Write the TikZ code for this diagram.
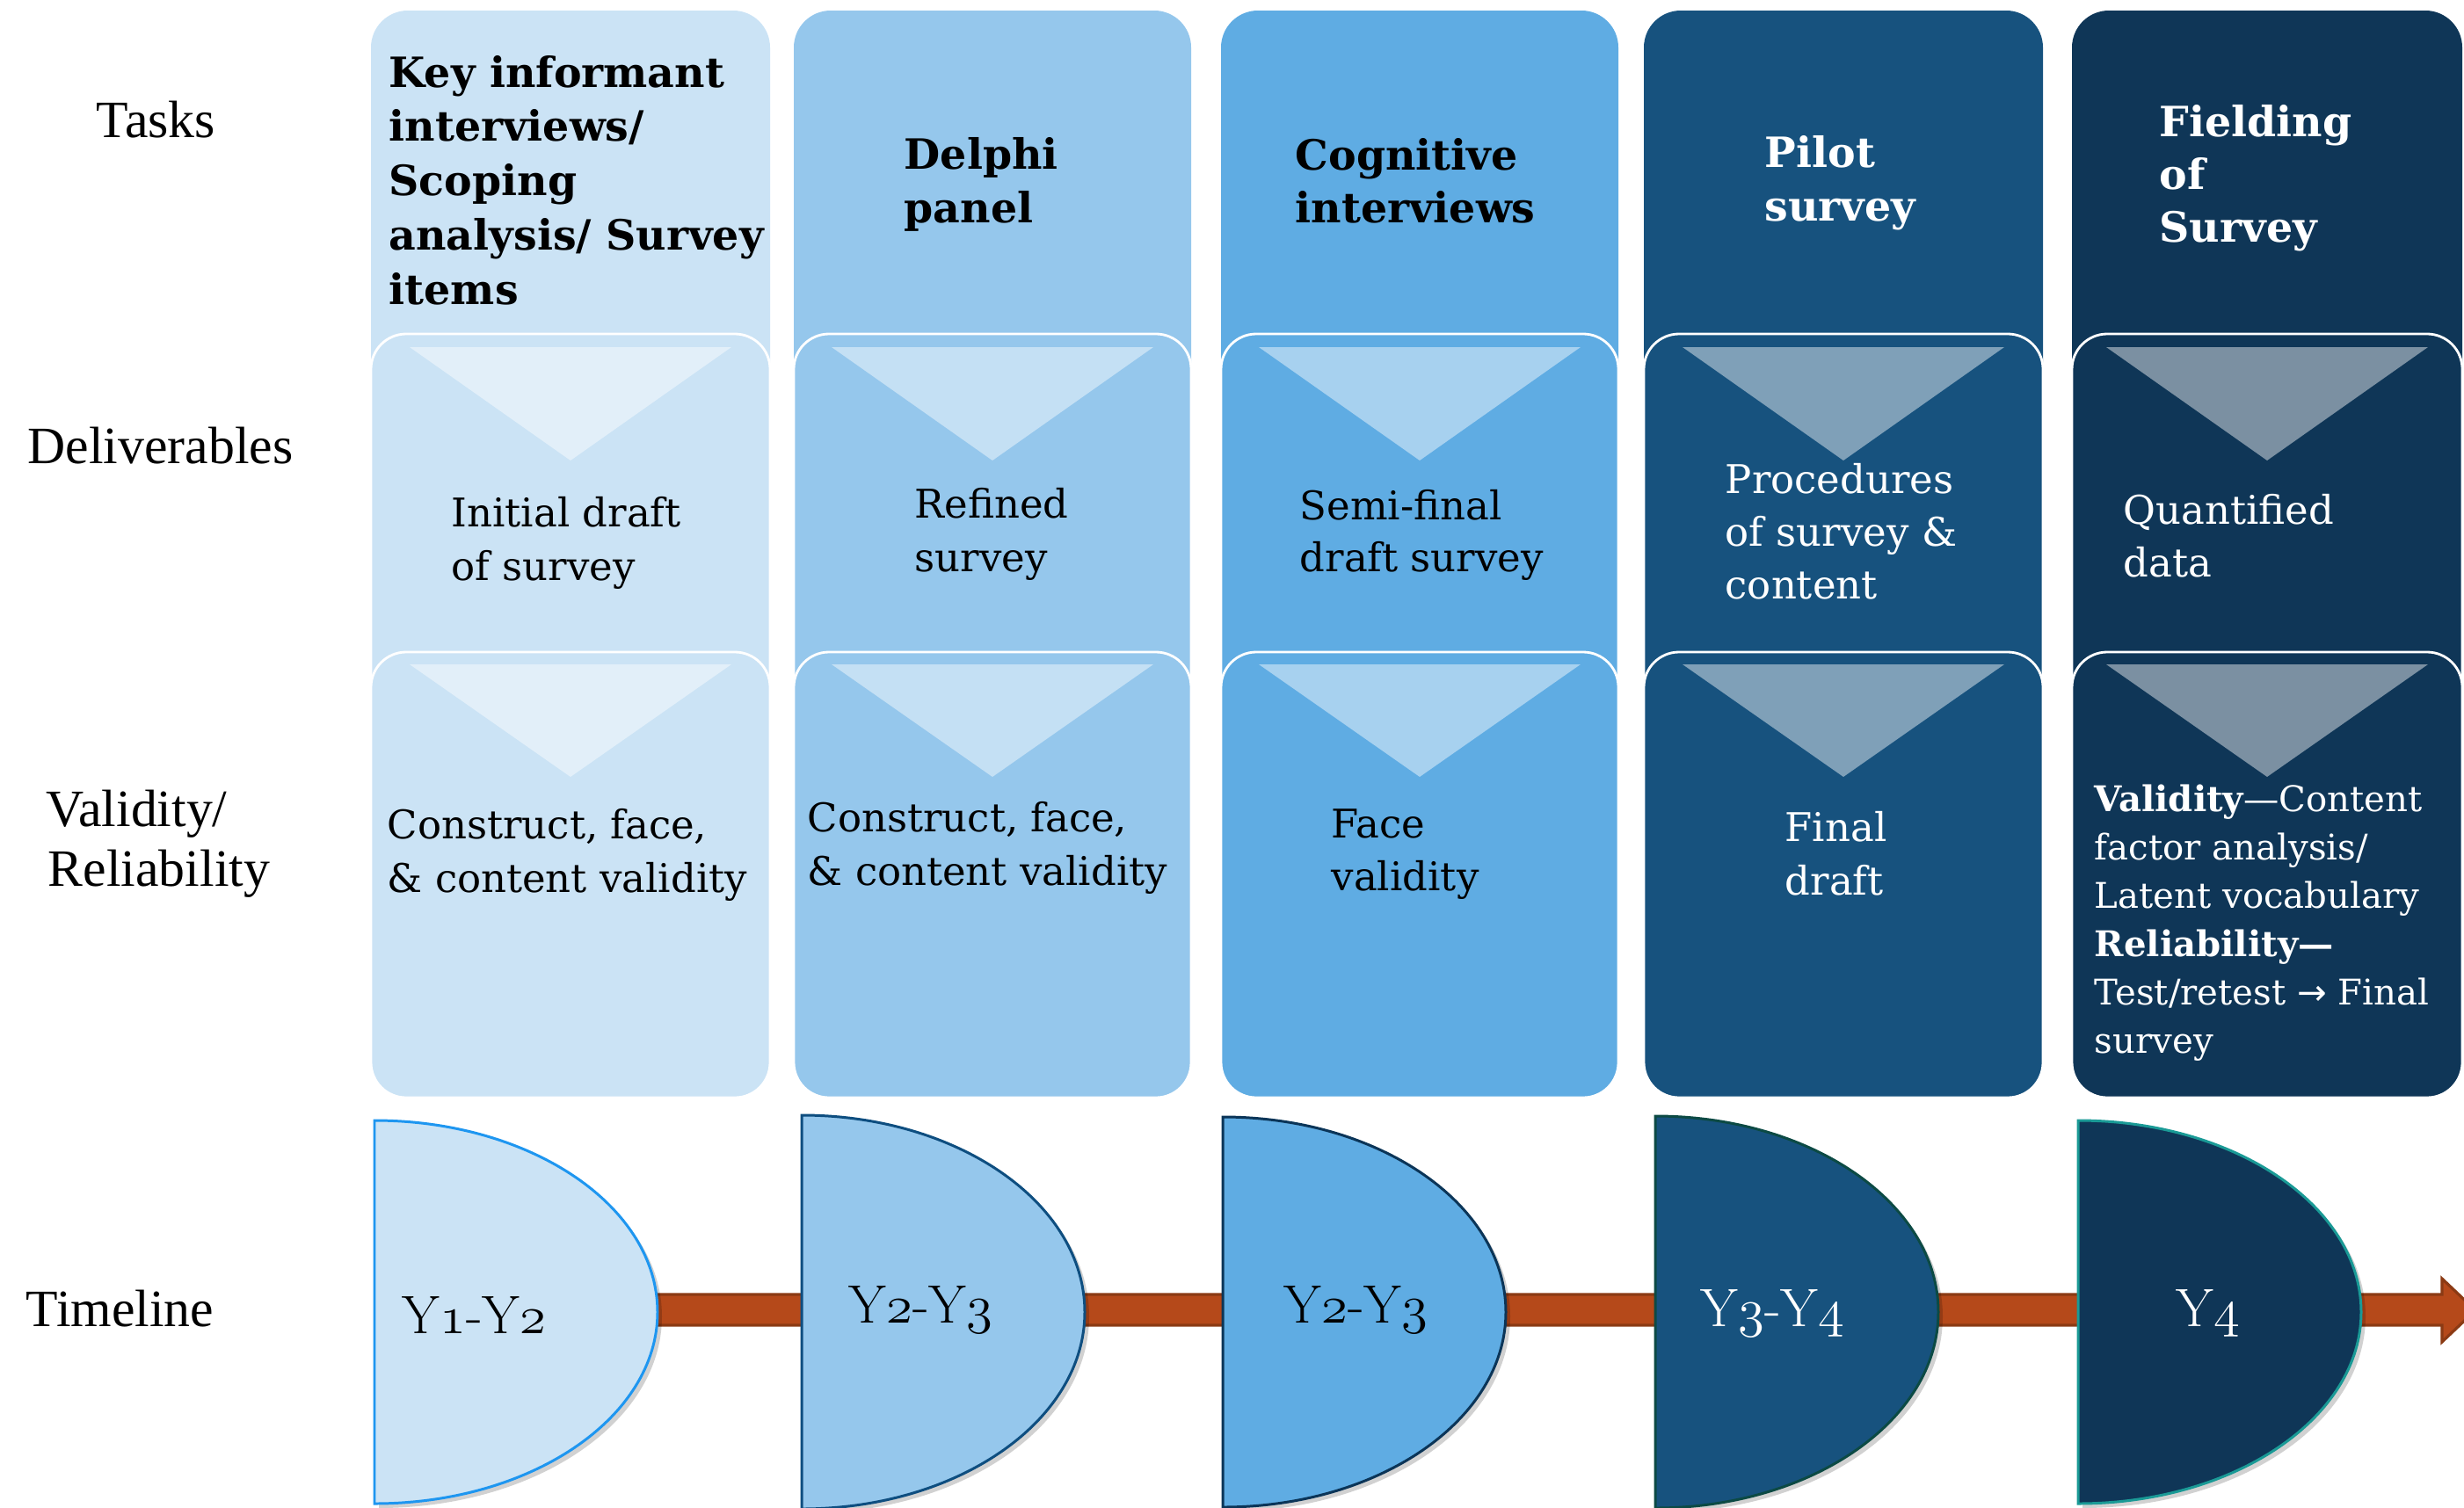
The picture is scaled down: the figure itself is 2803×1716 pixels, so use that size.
\documentclass[tikz,border=0pt]{standalone}
\usepackage{fontspec}
\newfontfamily\gfont{DejaVu Serif}
\newfontfamily\tfont{Liberation Serif}
\newfontfamily\symfont{DejaVu Sans}
\usetikzlibrary{shadows}
\definecolor{cA}{HTML}{CBE3F5}
\definecolor{cB}{HTML}{95C7EC}
\definecolor{cC}{HTML}{5FACE3}
\definecolor{cD}{HTML}{17527E}
\definecolor{cE}{HTML}{0F3657}
\definecolor{oA}{HTML}{1E96F0}
\definecolor{oB}{HTML}{0E4E80}
\definecolor{oC}{HTML}{0B3558}
\definecolor{oD}{HTML}{0C4A44}
\definecolor{oE}{HTML}{1A9A96}
\definecolor{arrfill}{HTML}{B5491A}
\definecolor{arredge}{HTML}{8B3A14}
\newcommand\vl[2]{\vtop{\baselineskip=#1\lineskiplimit=-20pt\relax #2}}
\newcommand\Dshape[4]{%
  \filldraw[fill=#3, draw=#4, line width=0.85pt,
    drop shadow={shadow xshift=0.5mm, shadow yshift=-0.5mm, fill=black, opacity=0.18}]
  (#1,#2) -- (#1,{2*1493-#2})
  .. controls ({#1+0.5523*322},{2*1493-#2}) and ({#1+322},{1493+0.5523*(1493-#2)}) .. ({#1+322},1493)
  .. controls ({#1+322},{1493-0.5523*(1493-#2)}) and ({#1+0.5523*322},#2) .. (#1,#2) -- cycle;}
\tikzset{
  lbl/.style={anchor=base west, inner sep=0pt, font=\tfont\fontsize{17}{19.4}\selectfont},
  txt/.style={anchor=base west, inner sep=0pt, font=\gfont\fontsize{12.8}{17.6}\selectfont},
  btxt/.style={anchor=base west, inner sep=0pt, font=\gfont\bfseries\fontsize{13.5}{17.6}\selectfont},
  stxt/.style={anchor=base west, inner sep=0pt, font=\gfont\fontsize{11.45}{15.6}\selectfont},
  yr/.style={anchor=base west, inner sep=0pt, font=\fontsize{17.5}{20}\selectfont},
  colbox/.style={rounded corners=4.2mm},
  subbox/.style={draw=white, line width=0.8pt, rounded corners=4mm},
  tri/.style={fill=white, fill opacity=0.45},
}
\begin{document}
\begin{tikzpicture}[x=0.1mm, y=-0.1mm]
\useasboundingbox (0,0) rectangle (2803,1716);
\begin{scope}
\clip (0,0) rectangle (2803,1716);
% columns
\foreach \l/\r/\c in {422/876/cA, 903/1355/cB, 1389/1841/cC, 1870/2324/cD, 2357/2801/cE}{
  \fill[colbox, fill=\c] (\l,12) rectangle (\r,1249);
  \filldraw[subbox, fill=\c] (\l,380) rectangle (\r,1249);
  \filldraw[subbox, fill=\c] (\l,742) rectangle (\r,1249);
  \pgfmathsetmacro\m{(\l+\r)/2}
  \fill[tri] ({\m-183},395) -- ({\m+183},395) -- (\m,524) -- cycle;
  \fill[tri] ({\m-183},756) -- ({\m+183},756) -- (\m,884) -- cycle;
}
% row labels
\node[lbl] (lTasks) at (109,156) {Tasks};
\node[lbl] (lDeliv) at (31,527) {Deliverables};
\node[lbl] (lValid) at (52,940) {\vl{19.35pt}{\hbox{Validity/}\hbox{\kern0.6pt Reliability}}};
\node[lbl] (lTime) at (29,1509) {Timeline};
% tasks
\node[btxt] (t1) at (442,99) {\vl{17.6pt}{\hbox{Key informant}\hbox{interviews/}\hbox{Scoping}\hbox{analysis/ Survey}\hbox{items}}};
\node[btxt] (t2) at (1028,192) {\vl{17.4pt}{\hbox{Delphi}\hbox{panel}}};
\node[btxt] (t3) at (1473,193) {\vl{17.1pt}{\hbox{Cognitive}\hbox{interviews}}};
\node[btxt, text=white] (t4) at (2007,190) {\vl{17.4pt}{\hbox{Pilot}\hbox{survey}}};
\node[btxt, text=white] (t5) at (2456,155) {\vl{17.2pt}{\hbox{Fielding}\hbox{of}\hbox{Survey}}};
% deliverables
\node[txt] (d1) at (513,599) {\vl{17.6pt}{\hbox{Initial draft}\hbox{of survey}}};
\node[txt] (d2) at (1040,589) {\vl{17.4pt}{\hbox{Refined}\hbox{survey}}};
\node[txt] (d3) at (1478,591) {\vl{16.8pt}{\hbox{Semi-final}\hbox{draft survey}}};
\node[txt, text=white] (d4) at (1962,561) {\vl{17.2pt}{\hbox{Procedures}\hbox{of survey \&}\hbox{content}}};
\node[txt, text=white] (d5) at (2415,596) {\vl{17.1pt}{\hbox{Quantified}\hbox{data}}};
% validity
\node[txt] (v1) at (440,954) {\vl{17.6pt}{\hbox{Construct, face,}\hbox{\& content validity}}};
\node[txt] (v2) at (918,946) {\vl{17.6pt}{\hbox{Construct, face,}\hbox{\& content validity}}};
\node[txt] (v3) at (1514,953) {\vl{17.1pt}{\hbox{Face}\hbox{validity}}};
\node[txt, text=white] (v4) at (2030,957) {\vl{17.4pt}{\hbox{Final}\hbox{draft}}};
\node[stxt, text=white] (v5) at (2382,923) {\vl{15.65pt}{%
  \hbox{\bfseries Validity\mdseries—Content}%
  \hbox{factor analysis/}%
  \hbox{Latent vocabulary}%
  \hbox{\bfseries Reliability—}%
  \hbox{Test/retest {\symfont→} Final}%
  \hbox{survey}}};
% timeline arrow
\filldraw[fill=arrfill, draw=arredge, line width=0.9pt]
  (700,1473) -- (2778,1473) -- (2778,1455) -- (2816,1491) -- (2778,1527) -- (2778,1508) -- (700,1508) -- cycle;
% timeline shapes
\Dshape{426}{1275}{cA}{oA}
\Dshape{912}{1269}{cB}{oB}
\Dshape{1391}{1271}{cC}{oC}
\Dshape{1883}{1270}{cD}{oD}
\Dshape{2364}{1275}{cE}{oE}
\node[yr] (y1) at (457,1517) {Y$\mathnormal{1}$-Y$\mathnormal{2}$};
\node[yr] (y2) at (965,1505) {Y$\mathnormal{2}$-Y$\mathnormal{3}$};
\node[yr] (y3) at (1460,1505) {Y$\mathnormal{2}$-Y$\mathnormal{3}$};
\node[yr, text=white] (y4) at (1934,1509) {Y$\mathnormal{3}$-Y$\mathnormal{4}$};
\node[yr, text=white] (y5) at (2475,1509) {Y$\mathnormal{4}$};
\end{scope}
\end{tikzpicture}
\end{document}
